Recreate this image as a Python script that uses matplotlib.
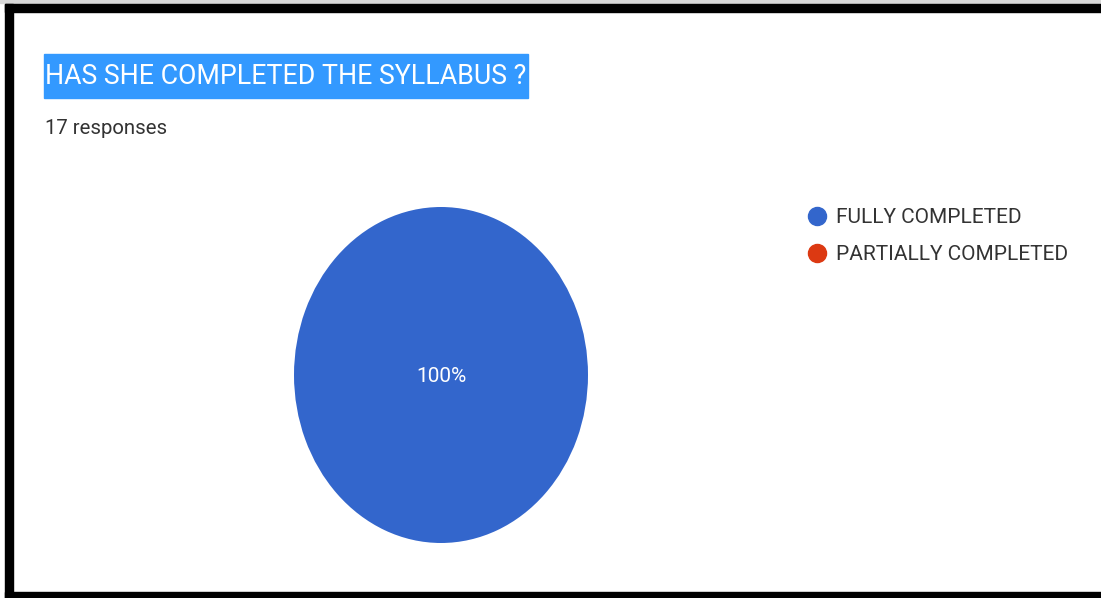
import matplotlib.pyplot as plt
from matplotlib.patches import Rectangle
from matplotlib.lines import Line2D

# Data
labels = ['FULLY COMPLETED', 'PARTIALLY COMPLETED']
counts = [17, 0]
colors = ['#3366cc', '#dc3912']
title = 'HAS SHE COMPLETED THE SYLLABUS ?'
n_responses = sum(counts)

W, H = 1101, 598
fig = plt.figure(figsize=(W / 100, H / 100), dpi=100)
plt.rcParams['font.family'] = ['Roboto', 'DejaVu Sans']


def fx(px):
    return px / W


def fy(py):
    return 1 - py / H


# black frame (top, left, bottom; right edge is cropped)
fig.patches.append(Rectangle((0, fy(3)), 1, 1 - fy(3), transform=fig.transFigure, color='#d8d8d8', zorder=0))
fig.patches.append(Rectangle((fx(5), fy(12)), 1 - fx(5), fy(4) - fy(12), transform=fig.transFigure, color='black'))
fig.patches.append(Rectangle((fx(5), 0), fx(13) - fx(5), fy(4), transform=fig.transFigure, color='black'))
fig.patches.append(Rectangle((fx(5), 0), 1 - fx(5), fy(592), transform=fig.transFigure, color='black'))

# title with selection highlight
fig.patches.append(Rectangle((fx(44), fy(98)), fx(528) - fx(44), fy(54) - fy(98),
                             transform=fig.transFigure, color='#3399ff', zorder=1))
fig.text(fx(45), fy(77), title, color='white', fontsize=19.3, va='center', ha='left', zorder=2)
fig.text(fx(45), fy(128), f'{n_responses} responses', color='#333333', fontsize=14.7, va='center', ha='left')

# pie (stretched into an ellipse like the source)
ax = fig.add_axes([fx(294), fy(543), fx(588) - fx(294), fy(207) - fy(543)])
wedges, _ = ax.pie(counts, colors=colors, startangle=90, counterclock=False,
                   wedgeprops=dict(linewidth=0))
ax.set_aspect('auto')
ax.set_xlim(-1, 1)
ax.set_ylim(-1, 1)
ax.axis('off')
pct = counts[0] / n_responses * 100
ax.text(0, -0.01, f'{pct:.0f}%', color='white', fontsize=15, ha='center', va='center')

# legend
handles = [Line2D([], [], marker='o', linestyle='none', markersize=13,
                  markerfacecolor=c, markeredgecolor=c) for c in colors]
fig.legend(handles, labels, loc='upper left', bbox_to_anchor=(fx(809), fy(208)),
           frameon=False, fontsize=15, handlelength=0.8, handletextpad=0.5,
           labelspacing=0.86, labelcolor='#333333', borderpad=0, borderaxespad=0)

plt.savefig('out.png', dpi=100)
